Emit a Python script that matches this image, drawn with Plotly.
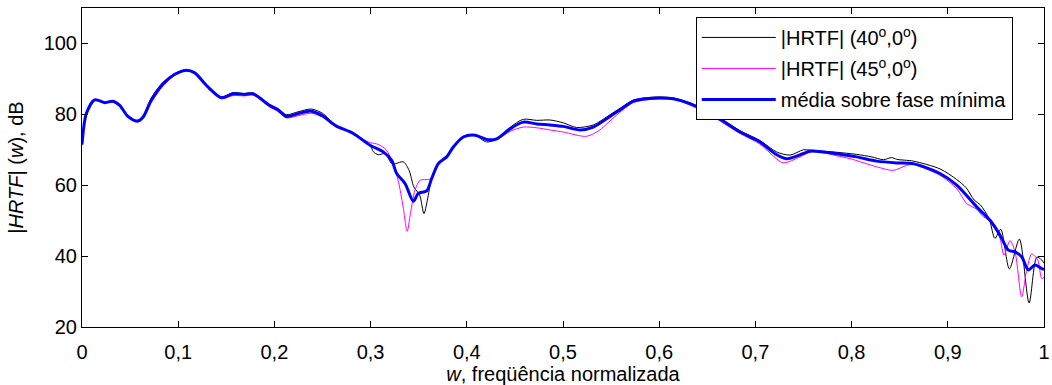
import plotly.graph_objects as go

# |HRTF| at azimuth 40 deg (elevation 0)
w_40 = [0.0, 0.0045, 0.0132, 0.0236, 0.0322, 0.0392, 0.0478, 0.0575, 0.0634, 0.072, 0.0842,
        0.0964, 0.1074, 0.1172, 0.1292, 0.1448, 0.157, 0.1691, 0.1778, 0.1951, 0.2037, 0.2124,
        0.2245, 0.2384, 0.25, 0.26, 0.265, 0.282, 0.295, 0.3, 0.303, 0.308, 0.315, 0.322, 0.326,
        0.334, 0.340, 0.345, 0.351, 0.3555, 0.359, 0.3635, 0.3704, 0.3791, 0.386, 0.3964, 0.4085,
        0.415, 0.4207, 0.4311, 0.4449, 0.4587, 0.4727, 0.4865, 0.5003, 0.514, 0.5315, 0.5489,
        0.561, 0.5731, 0.587, 0.6008, 0.6147, 0.632, 0.6598, 0.684, 0.7048, 0.722, 0.736, 0.7498,
        0.7568, 0.7706, 0.7845, 0.8053, 0.8209, 0.833, 0.8417, 0.8469, 0.8641, 0.8919, 0.9093,
        0.919, 0.9275, 0.934, 0.943, 0.949, 0.955, 0.964, 0.9744, 0.9845, 0.9925, 0.9976, 1.0]
hrtf_40 = [71.5, 80.3, 84.2, 83.4, 83.8, 82.6, 79.5, 78.2, 79.5, 84.6, 89.0,
           91.5, 92.5, 91.8, 88.3, 84.9, 86.1, 85.9, 86.0, 82.8, 81.6, 79.9,
           80.7, 81.5, 80.3, 77.8, 76.6, 74.6, 72.0, 71.0, 69.4, 68.6, 68.9, 66.1, 66.1,
           66.6, 64.2, 59.5, 57.2, 52.0, 55.8, 61.9, 66.1, 68.0, 70.8, 73.6, 74.3,
           73.0, 72.2, 72.9, 76.3, 78.6, 78.3, 78.4, 77.6, 76.3, 77.0, 79.9,
           82.0, 84.0, 84.7, 84.9, 84.6, 83.2, 79.5, 75.4, 72.6, 69.4, 68.5, 70.0,
           69.9, 69.6, 69.3, 68.7, 68.0, 67.2, 67.8, 67.3, 66.8, 64.6, 61.6,
           59.3, 55.8, 54.4, 50.5, 45.0, 47.6, 36.4, 44.8, 26.8, 39.7, 38.9, 38.0]

# |HRTF| at azimuth 45 deg (elevation 0)
w_45 = [0.0, 0.0045, 0.0132, 0.0236, 0.0322, 0.0392, 0.0478, 0.0575, 0.0634, 0.072, 0.0842,
        0.0964, 0.1074, 0.1172, 0.1292, 0.1448, 0.157, 0.1691, 0.1778, 0.1951, 0.2037, 0.2124,
        0.2245, 0.2384, 0.25, 0.26, 0.265, 0.282, 0.295, 0.3, 0.308, 0.3165, 0.3234, 0.3286,
        0.3338, 0.338, 0.3414, 0.3461, 0.3514, 0.3576, 0.3635, 0.3704, 0.3791, 0.386, 0.3964,
        0.4085, 0.4207, 0.4311, 0.4449, 0.4587, 0.4727, 0.4865, 0.5003, 0.5246, 0.5383, 0.5455,
        0.561, 0.5731, 0.587, 0.6008, 0.6147, 0.632, 0.6598, 0.684, 0.7048, 0.7204, 0.729,
        0.7464, 0.7568, 0.7706, 0.7845, 0.7983, 0.8261, 0.8434, 0.8572, 0.8641, 0.8919, 0.9093,
        0.9197, 0.925, 0.93, 0.937, 0.947, 0.9543, 0.9584, 0.9647, 0.9699, 0.9768, 0.982,
        0.9873, 0.9935, 0.9976, 1.0]
hrtf_45 = [71.3, 80.0, 84.0, 83.1, 83.5, 82.3, 79.1, 77.8, 78.8, 83.3, 88.0,
           91.0, 92.3, 91.6, 88.0, 84.4, 85.3, 85.2, 85.4, 82.1, 80.8, 79.0,
           79.6, 80.3, 79.2, 77.2, 76.3, 74.8, 72.5, 72.0, 71.5, 69.9, 66.1, 61.4,
           53.9, 47.0, 52.0, 58.6, 61.4, 61.6, 61.9, 66.3, 68.3, 71.0, 73.8,
           74.3, 73.0, 72.9, 75.2, 76.4, 76.2, 75.6, 75.0, 73.8, 75.6, 77.3,
           81.0, 83.3, 84.1, 84.4, 84.2, 82.6, 78.7, 74.6, 71.6, 67.8, 66.3,
           68.0, 69.4, 69.2, 68.3, 67.5, 65.2, 64.2, 65.6, 65.8, 62.8, 59.0,
           54.8, 54.0, 53.2, 51.1, 49.4, 45.0, 40.3, 44.4, 41.2, 28.5, 36.0,
           40.6, 38.9, 33.7, 34.0]

# minimum-phase average
w_avg = [0.0, 0.0045, 0.0132, 0.0236, 0.0322, 0.0392, 0.0478, 0.0575, 0.0634, 0.072, 0.0842,
         0.0964, 0.1074, 0.1172, 0.1292, 0.1448, 0.157, 0.1691, 0.1778, 0.1951, 0.2037, 0.2124,
         0.2245, 0.2384, 0.25, 0.26, 0.265, 0.282, 0.2994, 0.3132, 0.3219, 0.3271, 0.3358,
         0.3444, 0.3496, 0.3583, 0.3635, 0.3704, 0.3791, 0.386, 0.3964, 0.4085, 0.4207, 0.4311,
         0.4449, 0.4587, 0.4727, 0.4865, 0.5003, 0.5177, 0.5315, 0.5489, 0.561, 0.5731, 0.587,
         0.6008, 0.6147, 0.632, 0.6598, 0.684, 0.7048, 0.7204, 0.7325, 0.7429, 0.7568, 0.7706,
         0.7845, 0.8053, 0.8261, 0.8469, 0.8641, 0.8919, 0.9093, 0.93, 0.9439, 0.9543, 0.9629,
         0.9699, 0.9768, 0.9837, 0.9906, 0.9976, 1.0]
hrtf_avg = [71.5, 80.2, 84.1, 83.3, 83.7, 82.5, 79.4, 78.1, 79.2, 84.0, 88.6,
            91.3, 92.4, 91.7, 88.2, 84.7, 85.8, 85.6, 85.8, 82.5, 81.3, 79.4,
            80.2, 80.9, 79.6, 77.5, 76.6, 74.6, 71.3, 69.4, 67.0, 63.3, 60.5,
            55.5, 57.7, 58.4, 61.9, 66.1, 68.0, 70.8, 73.6, 74.1, 72.9, 73.1,
            75.9, 77.8, 77.3, 77.0, 76.6, 75.6, 76.4, 79.4, 81.6, 83.7, 84.4,
            84.6, 84.4, 83.0, 79.2, 75.0, 72.2, 68.9, 67.5, 68.2, 69.6, 69.4,
            68.9, 68.0, 66.8, 66.3, 66.1, 63.3, 60.0, 53.9, 50.1, 45.9, 41.7,
            41.2, 39.8, 36.1, 37.5, 36.5, 36.2]

x_ticks = [0, 0.1, 0.2, 0.3, 0.4, 0.5, 0.6, 0.7, 0.8, 0.9, 1]
x_tick_text = ["0", "0,1", "0,2", "0,3", "0,4", "0,5", "0,6", "0,7", "0,8", "0,9", "1"]
y_ticks = [20, 40, 60, 80, 100]

FONT = "Liberation Sans, Arial, sans-serif"
FS = 20

fig = go.Figure()
fig.add_trace(go.Scatter(x=w_40, y=hrtf_40, mode="lines", legendgroup="a",
                         line=dict(color="#000000", width=1, shape="spline", smoothing=0.8),
                         name="|HRTF| (40<sup>o</sup>,0<sup>o</sup>)"))
fig.add_trace(go.Scatter(x=w_45, y=hrtf_45, mode="lines", legendgroup="b",
                         line=dict(color="#ff00ff", width=1, shape="spline", smoothing=0.8),
                         name="|HRTF| (45<sup>o</sup>,0<sup>o</sup>)"))
fig.add_trace(go.Scatter(x=w_avg, y=hrtf_avg, mode="lines", legendgroup="c",
                         line=dict(color="#0000ff", width=3, shape="spline", smoothing=0.8),
                         name="média sobre fase mínima"))

axis_common = dict(showline=True, linecolor="black", linewidth=1, mirror="ticks",
                   ticks="inside", ticklen=6, tickcolor="black", showgrid=False,
                   zeroline=False, automargin=False,
                   tickfont=dict(family=FONT, size=FS, color="black"))

fig.update_xaxes(range=[0, 1], tickvals=x_ticks, ticktext=x_tick_text,
                 ticklabelstandoff=7,
                 title=dict(text="<i>w</i>, freqüência normalizada",
                            font=dict(family=FONT, size=FS, color="black"), standoff=2),
                 **axis_common)
fig.update_yaxes(range=[20, 110], tickvals=y_ticks,
                 title=dict(text="|<i>HRTF</i>| (<i>w</i>), dB",
                            font=dict(family=FONT, size=FS, color="black"), standoff=14),
                 **axis_common)

fig.update_layout(
    width=1052, height=385,
    margin=dict(l=82, r=8, t=8, b=58),
    paper_bgcolor="white", plot_bgcolor="white",
    showlegend=True,
    legend=dict(x=0.638, y=0.972, xanchor="left", yanchor="top",
                bgcolor="white", bordercolor="black", borderwidth=1,
                font=dict(family=FONT, size=FS, color="black"),
                itemwidth=74, traceorder="grouped", tracegroupgap=2),
)

fig.write_html("out.html")
